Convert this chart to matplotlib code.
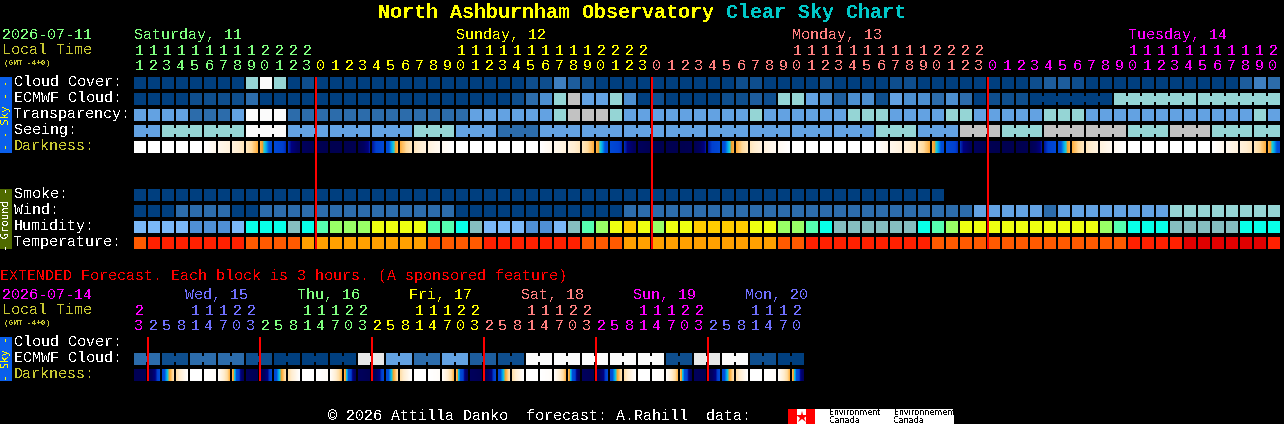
import matplotlib

matplotlib.use("Agg")
import matplotlib.pyplot as plt
import numpy as np
from matplotlib.colors import LinearSegmentedColormap
from matplotlib.patches import Rectangle

plt.rcParams["font.family"] = ["Liberation Mono", "DejaVu Sans Mono"]
plt.rcParams["text.antialiased"] = False

# main forecast, one block per hour
CLOUD = [0, 0, 0, 0, 0, 0, 0, 0, 7, 10, 7, 0, 1, 0, 0, 0, 0, 0, 0, 0, 0, 0, 0, 0, 0, 0, 0, 0,
         1, 1, 4, 2, 1, 0, 0, 0, 0, 0, 0, 0, 0, 0, 0, 1, 1, 0, 0, 0, 0, 1, 0, 0, 0, 0, 1, 1,
         0, 0, 0, 0, 0, 0, 0, 0, 1, 2, 2, 1, 0, 0, 0, 0, 0, 0, 0, 0, 0, 0, 0, 2, 4, 3]
ECMWF = [0, 0, 0, 0, 1, 1, 1, 1, 3, 0, 0, 0, 0, 0, 0, 0, 0, 0, 0, 0, 0, 0, 0, 0, 0, 0, 0, 1,
         3, 5, 7, 8, 6, 6, 7, 5, 0, 1, 0, 0, 0, 0, 1, 1, 2, 1, 7, 7, 6, 5, 2, 5, 5, 1, 6, 5,
         5, 3, 5, 3, 0, 1, 1, 1, 0, 0, 0, 0, 0, 0, 7, 7, 7, 7, 7, 7, 7, 7, 7, 7, 7, 7]
TRANSPARENCY = [6, 6, 6, 6, 3, 3, 3, 6, 10, 10, 10, 3, 3, 3, 3, 3, 3, 3, 3, 3, 3, 3, 3, 3,
                6, 6, 6, 6, 6, 6, 7, 8, 8, 8, 7, 6, 6, 6, 6, 6, 6, 6, 6, 6, 7, 6, 6, 6, 6, 6,
                6, 7, 7, 7, 6, 6, 6, 6, 7, 7, 6, 6, 6, 6, 6, 7, 7, 7, 6, 6, 6, 6, 6, 6, 6, 6,
                6, 6, 6, 6, 7, 6]
SEEING = [6, 6, 7, 7, 7, 7, 7, 7, 10, 10, 10, 6, 6, 6, 6, 6, 6, 6, 6, 6, 7, 7, 7, 6, 6, 6,
          3, 3, 3, 6, 6, 6, 6, 6, 6, 6, 6, 6, 6, 6, 6, 6, 6, 6, 6, 6, 6, 6, 6, 6, 6, 6, 6,
          7, 7, 7, 6, 6, 6, 8, 8, 8, 7, 7, 7, 8, 8, 8, 8, 8, 8, 7, 7, 7, 8, 8, 8, 7, 7, 7,
          7, 7]
SMOKE = [0] * 58
WIND = [0, 0, 0, 3, 3, 3, 3, 0, 0, 3, 3, 3, 3, 3, 3, 3, 3, 3, 3, 3, 3, 3, 3, 0, 0, 0, 0, 0,
        0, 0, 0, 0, 0, 0, 0, 3, 3, 3, 3, 3, 3, 3, 3, 3, 3, 3, 3, 3, 3, 3, 3, 3, 3, 3, 3, 3,
        3, 3, 3, 3, 6, 6, 6, 6, 6, 3, 6, 6, 6, 6, 6, 6, 6, 6, 7, 7, 7, 7, 7, 7, 7, 7]
HUMIDITY = ["lb", "lb", "lb", "lb", "mb", "mb", "mb", "lb", "cy", "cy", "cy", "gt", "cy", "mi",
            "lg", "lg", "lg", "ye", "ye", "ye", "ye", "mi", "mi", "cy", "gt", "lb", "lb", "lb",
            "mb", "mb", "lb", "gt", "mi", "lg", "ye", "or", "ye", "lg", "ye", "ye", "or", "or",
            "or", "or", "ye", "ye", "lg", "lg", "mi", "cy", "gt", "gt", "gt", "gt", "gt", "gt",
            "cy", "mi", "lg", "ye", "ye", "ye", "ye", "ye", "ye", "ye", "ye", "ye", "ye", "lg",
            "mi", "cy", "cy", "cy", "gt", "gt", "gt", "gt", "gt", "cy", "cy", "cy"]
TEMPERATURE = [1, 2, 2, 2, 2, 2, 2, 2, 1, 1, 1, 1, 0, 0, 0, 0, 0, 0, 0, 0, 0, 1, 1, 1, 1, 2, 2,
               2, 2, 2, 2, 2, 1, 1, 1, 0, 0, 0, 0, 0, 0, 0, 0, 0, 0, 0, 1, 1, 2, 2, 2, 2, 2, 2,
               2, 2, 2, 1, 1, 1, 1, 1, 1, 1, 1, 1, 1, 1, 1, 1, 1, 2, 2, 2, 2, 3, 3, 3, 3, 3, 3, 2]
DARKNESS_EDGES = [0, 0, 0, 0, 0, 0, .08, .15, .24, .38, .60, .70, .88, .97, 1, 1, .97, .72, .6, .38,
                  .24, .14, .06, 0, 0, 0, 0, 0, 0, 0, .08, .15, .24, .38, .60, .70, .88, .97, 1, 1,
                  .97, .72, .6, .38, .24, .14, .06, 0, 0, 0, 0, 0, 0, 0, .08, .15, .24, .38, .60,
                  .70, .88, .97, 1, 1, .97, .72, .6, .38, .24, .14, .06, 0, 0, 0, 0, 0, 0, 0, .08,
                  .15, .24, .38, .60]
# runs of blocks that the source draws joined together
SEEING_RUNS = [2, 3, 3, 3, 3, 3, 3, 3, 3, 3, 3, 3, 3, 3, 3, 3, 3, 3, 3, 3, 3, 3, 3, 3, 3, 3, 3, 2]
ECMWF_RUNS = [1] * 64 + [6, 6, 6]

HOURS = [(11 + i) % 24 for i in range(82)]
DAY_NAMES = [("Saturday, 11", 0), ("Sunday, 12", 23), ("Monday, 13", 47), ("Tuesday, 14", 71)]
DAY_CHANGES = [0, 13, 37, 61]

# extended forecast, one block per 3 hours
EXT_HOURS = [23] + [2, 5, 8, 11, 14, 17, 20, 23] * 5 + [2, 5, 8, 11, 14, 17, 20]
EXT_ECMWF = [3, 3, 1, 1, 3, 3, 3, 3, 1, 1, 0, 0, 0, 0, 0, 0, 9, 9, 6, 6, 3, 3, 6, 6, 2, 2, 1, 1,
             10, 10, 10, 10, 10, 10, 10, 10, 10, 10, 1, 1, 9, 9, 10, 10, 1, 1, 0, 0]
EXT_DARKNESS_EDGES = [.95, .95, .62, .28, 0, 0, .03, .37, .88,
                      .97, .62, .28, 0, 0, .03, .37, .88,
                      .97, .62, .28, 0, 0, .03, .37, .88,
                      .97, .62, .28, 0, 0, .03, .37, .88,
                      .97, .62, .28, 0, 0, .03, .37, .88,
                      .97, .62, .28, 0, 0, .03, .37, .88]
EXT_RUNS = [2] * 24
EXT_DAY_NAMES = [("Wed, 15", 1), ("Thu, 16", 9), ("Fri, 17", 17), ("Sat, 18", 25),
                 ("Sun, 19", 33), ("Mon, 20", 41)]

SKY_COLORS = ["#003F7F", "#0E4E8E", "#1D5D9D", "#2C6CAB", "#3E7FC0", "#4C8FD0", "#63A2E2",
              "#95D5D5", "#C2C2C2", "#E8E8E8", "#FBFBFB"]
HUMIDITY_COLORS = {"lb": "#7AB8F8", "mb": "#4F8FD5", "cy": "#08FFE8", "gt": "#85BEBF",
                   "mi": "#55FFB0", "lg": "#99FF66", "ye": "#EEFF11", "or": "#FFCC00"}
TEMP_COLORS = ["#FFA000", "#FF5A00", "#FF2000", "#E00000"]
DARK_CMAP = LinearSegmentedColormap.from_list("darkness", [
    (0, "#FFFFFF"), (.10, "#FFF6E8"), (.20, "#FFEDD0"), (.30, "#FFDCA0"), (.38, "#FFB040"),
    (.42, "#E8A030"), (.45, "#20D0D0"), (.50, "#00A0F0"), (.55, "#0050D8"), (.68, "#0040D0"),
    (.75, "#000080"), (.85, "#000060"), (1, "#000050")])

DAY_COLORS = ["#80FF80", "#FFFF00", "#FF8080", "#FF00FF"]
EXT_DAY_COLORS = ["#FF00FF", "#7070FF", "#80FF80", "#FFFF00", "#FF8080", "#FF00FF", "#7070FF"]
OLIVE = "#C8C832"

X0 = 134
STEP = 14
SIZE = 12
MONO = 10.8


def col_x(i):
    return X0 + STEP * i


def label(ax, x, y, text, color="white", size=MONO, **kwargs):
    ax.text(x, y, text, color=color, fontsize=size, va="baseline", **kwargs)


def draw_row(ax, y, colors, runs=None):
    for i, color in enumerate(colors):
        ax.add_patch(Rectangle((col_x(i), y), SIZE, SIZE, color=color, lw=0, antialiased=False))
    if runs is None:
        return
    start = 0
    for run in runs:
        for i in range(start, start + run - 1):
            ax.add_patch(Rectangle((col_x(i) + SIZE, y + 3), STEP - SIZE, 6, color=colors[i],
                                   lw=0, antialiased=False))
        start += run


def draw_darkness(ax, y, edges):
    for i in range(len(edges) - 1):
        ramp = np.linspace(edges[i], edges[i + 1], SIZE)[np.newaxis, :]
        ax.imshow(ramp, cmap=DARK_CMAP, vmin=0, vmax=1, aspect="auto", interpolation="nearest",
                  extent=(col_x(i), col_x(i) + SIZE, y + SIZE, y))


def draw_hours(ax, hours, colors, tens_y, ones_y):
    for i, (hour, color) in enumerate(zip(hours, colors)):
        if hour >= 10:
            label(ax, col_x(i) + 5, tens_y, str(hour // 10), color, ha="center")
        label(ax, col_x(i) + 5, ones_y, str(hour % 10), color, ha="center")


def side_bar(ax, y, height, text, color, text_color):
    ax.add_patch(Rectangle((0, y), 12, height, color=color, lw=0, antialiased=False))
    ax.text(6, y + height / 2, text, color=text_color, fontsize=7.6, rotation=90,
            ha="center", va="center", family="DejaVu Sans Mono")


fig = plt.figure(figsize=(12.84, 4.24), dpi=100, facecolor="black")
ax = fig.add_axes([0, 0, 1, 1])
ax.set_facecolor("black")

# title
label(ax, 378, 18, "North Ashburnham Observatory", "#FFFF00", 14.4, fontweight="bold")
label(ax, 726, 18, "Clear Sky Chart", "#00C8C8", 14.4, fontweight="bold")

# main header
label(ax, 2, 39, "2026-07-11", "#80FF80")
label(ax, 2, 54, "Local Time", OLIVE)
label(ax, 4, 65, "(GMT -4+0)", OLIVE, 5.5, fontweight="bold")
for (name, col), color in zip(DAY_NAMES, DAY_COLORS):
    label(ax, col_x(col), 39, name, color)
hour_colors = [DAY_COLORS[sum(i >= c for c in DAY_CHANGES) - 1] for i in range(len(HOURS))]
draw_hours(ax, HOURS, hour_colors, 55, 70)

# sky rows
rows = [("Cloud Cover:", 77), ("ECMWF Cloud:", 93), ("Transparency:", 109), ("Seeing:", 125)]
for name, y in rows:
    label(ax, 14, y + 9, name)
label(ax, 14, 150, "Darkness:", OLIVE)
draw_row(ax, 77, [SKY_COLORS[v] for v in CLOUD])
draw_row(ax, 93, [SKY_COLORS[v] for v in ECMWF], ECMWF_RUNS)
draw_row(ax, 109, [SKY_COLORS[v] for v in TRANSPARENCY])
draw_row(ax, 125, [SKY_COLORS[v] for v in SEEING], SEEING_RUNS)
draw_darkness(ax, 141, DARKNESS_EDGES)
side_bar(ax, 77, 76, "- - Sky - -", "#0A5FEB", "#FFFF00")

# ground rows
for name, y in [("Smoke:", 189), ("Wind:", 205), ("Humidity:", 221), ("Temperature:", 237)]:
    label(ax, 14, y + 9, name)
draw_row(ax, 189, [SKY_COLORS[v] for v in SMOKE])
draw_row(ax, 205, [SKY_COLORS[v] for v in WIND])
draw_row(ax, 221, [HUMIDITY_COLORS[v] for v in HUMIDITY])
draw_row(ax, 237, [TEMP_COLORS[v] for v in TEMPERATURE])
side_bar(ax, 189, 60, "- Ground -", "#4F6A00", "white")

for col in [13, 37, 61]:
    ax.add_patch(Rectangle((col_x(col) - 1, 77), 2, 172, color="#FF0000", lw=0, antialiased=False))

# extended forecast
label(ax, 0, 280, "EXTENDED Forecast. Each block is 3 hours. (A sponsored feature)", "#FF0000")
label(ax, 2, 299, "2026-07-14", "#FF00FF")
label(ax, 2, 314, "Local Time", OLIVE)
label(ax, 4, 325, "(GMT -4+0)", OLIVE, 5.5, fontweight="bold")
for (name, col), color in zip(EXT_DAY_NAMES, EXT_DAY_COLORS[1:]):
    label(ax, col_x(col) + 37, 299, name, color)
ext_colors = [EXT_DAY_COLORS[(i + 7) // 8] for i in range(len(EXT_HOURS))]
draw_hours(ax, EXT_HOURS, ext_colors, 315, 330)
label(ax, 14, 346, "Cloud Cover:")
label(ax, 14, 362, "ECMWF Cloud:")
label(ax, 14, 378, "Darkness:", OLIVE)
draw_row(ax, 353, [SKY_COLORS[v] for v in EXT_ECMWF], EXT_RUNS)
draw_darkness(ax, 369, EXT_DARKNESS_EDGES)
side_bar(ax, 337, 44, "- Sky -", "#0A5FEB", "#FFFF00")
for col in [1, 9, 17, 25, 33, 41]:
    ax.add_patch(Rectangle((col_x(col) - 1, 337), 2, 44, color="#FF0000", lw=0, antialiased=False))

# footer and logo
label(ax, 328, 420, "\u00a9 2026 Attilla Danko  forecast: A.Rahill  data:")
ax.add_patch(Rectangle((788, 409), 166, 15, color="white", lw=0, antialiased=False))
ax.add_patch(Rectangle((788, 409), 9, 15, color="#FF0000", lw=0, antialiased=False))
ax.add_patch(Rectangle((806, 409), 9, 15, color="#FF0000", lw=0, antialiased=False))
ax.plot([801.5], [416.5], marker="*", ms=9, color="#FF0000", mew=0)
for x, word in [(829, "Environment"), (894, "Environnement")]:
    ax.text(x, 415, word, color="black", fontsize=5.8, family="DejaVu Sans", va="baseline")
    ax.text(x, 423, "Canada", color="black", fontsize=5.8, family="DejaVu Sans", va="baseline")

ax.set_xlim(0, 1284)
ax.set_ylim(424, 0)
ax.axis("off")
fig.savefig("out.png", dpi=100, facecolor="black")
